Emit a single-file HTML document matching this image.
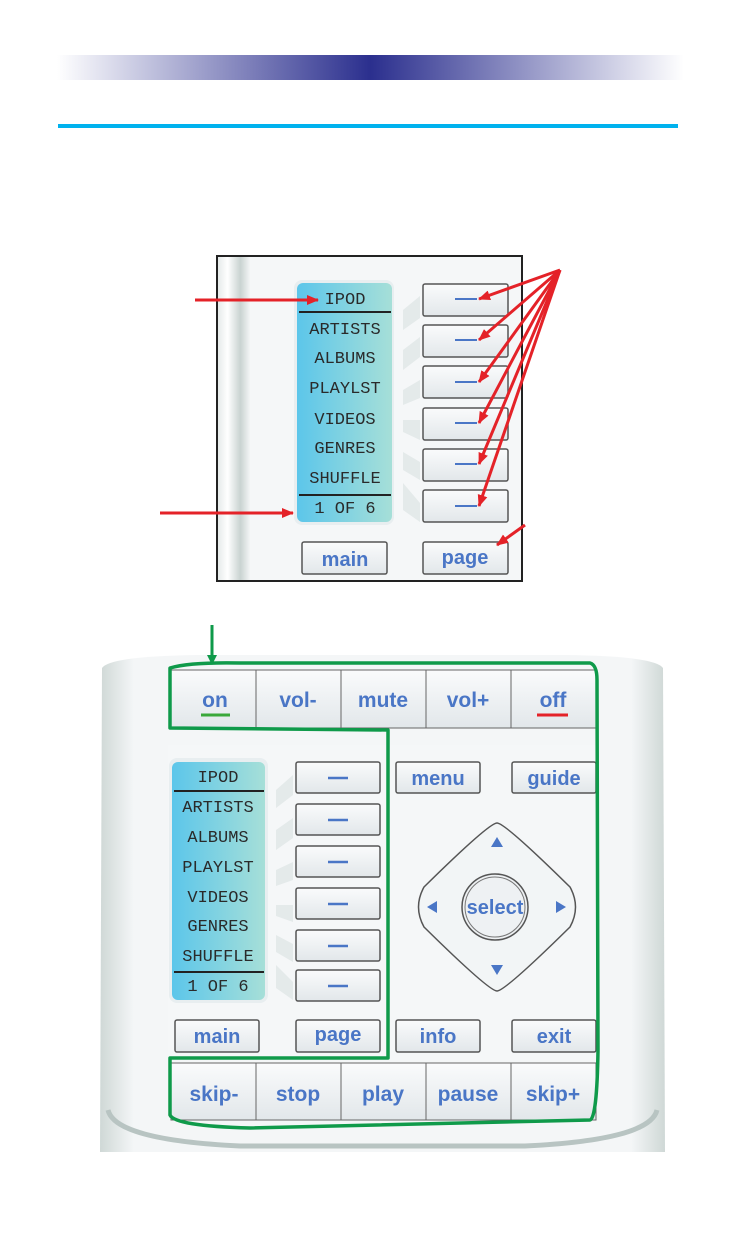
<!DOCTYPE html>
<html><head><meta charset="utf-8"><style>
html,body{margin:0;padding:0;background:#fff;}
svg{display:block}
.b{font-family:"Liberation Sans",sans-serif;font-weight:bold;fill:#4a76c6;text-anchor:middle}
.l{font-family:"Liberation Mono",monospace;fill:#2a2a2a;text-anchor:middle;font-size:17px}
</style></head><body>
<svg width="738" height="1248" viewBox="0 0 738 1248" xmlns="http://www.w3.org/2000/svg">
<defs>
<linearGradient id="hd" x1="0" x2="1"><stop offset="0" stop-color="#fff"/><stop offset="0.5" stop-color="#2b2f8e"/><stop offset="1" stop-color="#fff"/></linearGradient>
<linearGradient id="lcd" x1="0" x2="1"><stop offset="0" stop-color="#5cc6ea"/><stop offset="1" stop-color="#a6dfd8"/></linearGradient>
<linearGradient id="btn" x1="0" y1="0" x2="0" y2="1"><stop offset="0" stop-color="#fafbfc"/><stop offset="1" stop-color="#e2e7ea"/></linearGradient>
<linearGradient id="strip" x1="0" x2="1"><stop offset="0" stop-color="#e6ebea"/><stop offset="0.3" stop-color="#fff"/><stop offset="0.7" stop-color="#c9d3d1"/><stop offset="1" stop-color="#f3f5f5"/></linearGradient>
<linearGradient id="bodyh" x1="0" x2="1"><stop offset="0" stop-color="#cfd8d6"/><stop offset="0.06" stop-color="#f4f6f7"/><stop offset="0.94" stop-color="#f4f6f7"/><stop offset="1" stop-color="#cfd8d6"/></linearGradient>
<marker id="ar" markerWidth="12" markerHeight="10" refX="11" refY="5" orient="auto" markerUnits="userSpaceOnUse" viewBox="0 0 12 10"><path d="M0,0 L12,5 L0,10 z" fill="#e42228"/></marker>
<marker id="ag" markerWidth="10" markerHeight="10" refX="9" refY="5" orient="auto" markerUnits="userSpaceOnUse" viewBox="0 0 10 10"><path d="M0,0 L10,5 L0,10 z" fill="#0f9a4a"/></marker>
</defs>
<rect x="57" y="55" width="627" height="25" fill="url(#hd)"/>
<rect x="58" y="124" width="620" height="4" fill="#00b2ee"/>

<rect x="217" y="256" width="305" height="325" fill="#f5f7f8" stroke="#222" stroke-width="2"/>
<rect x="218" y="257" width="32" height="323" fill="url(#strip)"/>
<rect x="294" y="280" width="100" height="245" rx="8" fill="#e8eef0"/>
<rect x="297" y="283" width="95" height="239" rx="6" fill="url(#lcd)"/>
<line x1="299" y1="312" x2="391" y2="312" stroke="#222" stroke-width="2"/>
<line x1="299" y1="495" x2="391" y2="495" stroke="#222" stroke-width="2"/>
<g class="l">
<text x="345" y="304">IPOD</text><text x="345" y="334">ARTISTS</text><text x="345" y="363">ALBUMS</text><text x="345" y="393">PLAYLST</text><text x="345" y="424">VIDEOS</text><text x="345" y="453">GENRES</text><text x="345" y="483">SHUFFLE</text><text x="345" y="513">1 OF 6</text>
</g>
<g fill="#e4eaea">
<path d="M403,310 L420,296 L420,318 L403,330Z"/><path d="M403,350 L420,337 L420,357 L403,370Z"/><path d="M403,390 L420,380 L420,398 L403,405Z"/><path d="M403,420 L420,420 L420,440 L403,432Z"/><path d="M403,452 L420,462 L420,480 L403,470Z"/><path d="M403,483 L420,503 L420,522 L403,510Z"/>
</g>
<g fill="url(#btn)" stroke="#555" stroke-width="1.5">
<rect x="423" y="284" width="85" height="32" rx="2"/><rect x="423" y="325" width="85" height="32" rx="2"/><rect x="423" y="366" width="85" height="32" rx="2"/><rect x="423" y="408" width="85" height="32" rx="2"/><rect x="423" y="449" width="85" height="32" rx="2"/><rect x="423" y="490" width="85" height="32" rx="2"/>
<rect x="302" y="542" width="85" height="32" rx="2"/><rect x="423" y="542" width="85" height="32" rx="2"/>
</g>
<g stroke="#4a76c6" stroke-width="2"><line x1="455" y1="299" x2="477" y2="299"/><line x1="455" y1="340" x2="477" y2="340"/><line x1="455" y1="382" x2="477" y2="382"/><line x1="455" y1="423" x2="477" y2="423"/><line x1="455" y1="464" x2="477" y2="464"/><line x1="455" y1="506" x2="477" y2="506"/></g>
<text class="b" x="345" y="566" font-size="20">main</text><text class="b" x="465" y="564" font-size="20">page</text>
<g stroke="#e42228" stroke-width="3" marker-end="url(#ar)" fill="none">
<line x1="195" y1="300" x2="318" y2="300"/>
<line x1="160" y1="513" x2="293" y2="513"/>
<line x1="560" y1="270" x2="479" y2="299"/>
<line x1="560" y1="270" x2="479" y2="340"/>
<line x1="560" y1="270" x2="479" y2="382"/>
<line x1="560" y1="270" x2="479" y2="423"/>
<line x1="560" y1="270" x2="479" y2="464"/>
<line x1="560" y1="270" x2="479" y2="506"/>
<line x1="525" y1="525" x2="497" y2="545"/>
</g>

<path d="M102,668 Q110,656 200,655 L565,655 Q655,656 663,668 L665,1152 L100,1152 Z" fill="url(#bodyh)"/>
<path d="M108,1110 Q115,1140 240,1146 L525,1146 Q650,1140 657,1110" fill="none" stroke="#b8c4c2" stroke-width="5"/>
<rect x="168" y="745" width="430" height="315" fill="#f5f7f8"/>
<g fill="url(#btn)" stroke="#666" stroke-width="1">
<rect x="171" y="670" width="85" height="58"/><rect x="256" y="670" width="85" height="58"/><rect x="341" y="670" width="85" height="58"/><rect x="426" y="670" width="85" height="58"/><rect x="511" y="670" width="85" height="58"/>
<rect x="171" y="1063" width="85" height="57"/><rect x="256" y="1063" width="85" height="57"/><rect x="341" y="1063" width="85" height="57"/><rect x="426" y="1063" width="85" height="57"/><rect x="511" y="1063" width="85" height="57"/>
</g>
<g class="b" font-size="21">
<text x="215" y="707">on</text><text x="298" y="707">vol-</text><text x="383" y="707">mute</text><text x="468" y="707">vol+</text><text x="553" y="707">off</text>
<text x="214" y="1101">skip-</text><text x="298" y="1101">stop</text><text x="383" y="1101">play</text><text x="468" y="1101">pause</text><text x="553" y="1101">skip+</text>
</g>
<line x1="201" y1="715" x2="230" y2="715" stroke="#3aa83a" stroke-width="3"/>
<line x1="537" y1="715" x2="568" y2="715" stroke="#e42228" stroke-width="3"/>
<rect x="169" y="758" width="99" height="245" rx="8" fill="#e8eef0"/>
<rect x="172" y="762" width="93" height="238" rx="6" fill="url(#lcd)"/>
<line x1="174" y1="791" x2="264" y2="791" stroke="#222" stroke-width="2"/>
<line x1="174" y1="972" x2="264" y2="972" stroke="#222" stroke-width="2"/>
<g class="l">
<text x="218" y="782">IPOD</text><text x="218" y="812">ARTISTS</text><text x="218" y="842">ALBUMS</text><text x="218" y="872">PLAYLST</text><text x="218" y="902">VIDEOS</text><text x="218" y="931">GENRES</text><text x="218" y="961">SHUFFLE</text><text x="218" y="991">1 OF 6</text>
</g>
<g fill="#e4eaea">
<path d="M276,790 L293,775 L293,795 L276,808Z"/><path d="M276,830 L293,818 L293,838 L276,850Z"/><path d="M276,870 L293,862 L293,880 L276,886Z"/><path d="M276,905 L293,905 L293,922 L276,916Z"/><path d="M276,935 L293,944 L293,962 L276,952Z"/><path d="M276,965 L293,982 L293,1000 L276,988Z"/>
</g>
<g fill="url(#btn)" stroke="#555" stroke-width="1.5">
<rect x="296" y="762" width="84" height="31" rx="2"/><rect x="296" y="804" width="84" height="31" rx="2"/><rect x="296" y="846" width="84" height="31" rx="2"/><rect x="296" y="888" width="84" height="31" rx="2"/><rect x="296" y="930" width="84" height="31" rx="2"/><rect x="296" y="970" width="84" height="31" rx="2"/>
<rect x="175" y="1020" width="84" height="32" rx="2"/><rect x="296" y="1020" width="84" height="32" rx="2"/>
<rect x="396" y="762" width="84" height="31" rx="2"/><rect x="512" y="762" width="84" height="31" rx="2"/>
<rect x="396" y="1020" width="84" height="32" rx="2"/><rect x="512" y="1020" width="84" height="32" rx="2"/>
</g>
<g stroke="#4a76c6" stroke-width="2.5"><line x1="328" y1="778" x2="348" y2="778"/><line x1="328" y1="820" x2="348" y2="820"/><line x1="328" y1="862" x2="348" y2="862"/><line x1="328" y1="904" x2="348" y2="904"/><line x1="328" y1="946" x2="348" y2="946"/><line x1="328" y1="986" x2="348" y2="986"/></g>
<g class="b" font-size="20">
<text x="217" y="1043">main</text><text x="338" y="1041">page</text><text x="438" y="1043">info</text><text x="554" y="1043">exit</text>
<text x="438" y="785">menu</text><text x="554" y="785">guide</text>
</g>
<path d="M497,823 Q505,823 570,887 Q581,907 570,927 Q505,991 497,991 Q489,991 424,927 Q413,907 424,887 Q489,823 497,823 Z" fill="#f2f5f6" stroke="#555" stroke-width="1.5"/>
<circle cx="495" cy="907" r="33" fill="#eef1f3" stroke="#555" stroke-width="1.5"/>
<circle cx="495" cy="907" r="30" fill="none" stroke="#777" stroke-width="1"/>
<text class="b" x="495" y="914" font-size="20">select</text>
<g fill="#4a76c6"><path d="M497,837 l-6,10 h12z"/><path d="M497,975 l-6,-10 h12z"/><path d="M427,907 l10,-6 v12z"/><path d="M566,907 l-10,-6 v12z"/></g>
<g fill="none" stroke="#0f9a4a" stroke-width="3.5" stroke-linejoin="round">
<path d="M170,668 Q190,662 240,663 L590,663 Q597,665 597,680 L598,1050 Q597,1118 590,1120 L250,1128 Q175,1126 170,1115 L170,1058 L388,1058 L388,730 L170,728 Z"/>
</g>
<line x1="212" y1="625" x2="212" y2="664" stroke="#0f9a4a" stroke-width="3" marker-end="url(#ag)"/>
</svg>
</body></html>
